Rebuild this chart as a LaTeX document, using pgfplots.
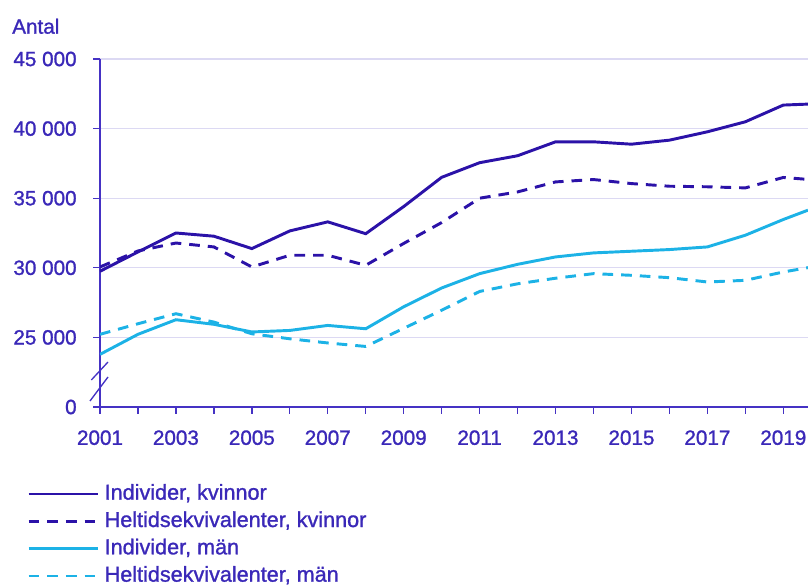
\documentclass[border=0pt]{standalone}
\usepackage{fontspec}
\setmainfont{Liberation Sans}[BoldFont={Liberation Sans}, BoldFeatures={FakeBold=1.2}]
\usepackage{pgfplots}
\usepackage{pgfplotstable}
\pgfplotsset{compat=1.18}

\definecolor{kv}{HTML}{2B12A8}
\definecolor{ma}{HTML}{1CB2E6}
\definecolor{axc}{HTML}{4532C4}
\definecolor{txc}{HTML}{3A28B8}
\definecolor{grc}{HTML}{DCD9F3}

% year, individer kvinnor, heltid kvinnor, individer man, heltid man
\pgfplotstableread{
year    ik     hk     im     hm
2001    29750  30060  23780  25220
2002    31140  31210  25220  25980
2003    32500  31780  26270  26700
2004    32270  31500  25940  26100
2005    31380  30060  25390  25260
2006    32650  30900  25500  24900
2007    33300  30900  25860  24600
2008    32450  30180  25620  24350
2009    34400  31750  27200  25650
2010    36500  33250  28550  26950
2011    37550  35000  29580  28300
2012    38050  35450  30250  28850
2013    39050  36170  30780  29250
2014    39050  36340  31070  29580
2015    38880  36050  31190  29460
2016    39170  35860  31310  29290
2017    39770  35820  31500  28980
2018    40490  35740  32340  29100
2019    41690  36490  33470  29700
2019.65 41760  36350  34140  30010
}\data

\newcommand{\chartfont}{\fontsize{15.5}{18}\selectfont\bfseries}
\newcommand{\legfont}{\fontsize{16.2}{19}\selectfont\bfseries}

\begin{document}
\begin{tikzpicture}
\useasboundingbox (-75pt,-133.5pt) rectangle (531pt,305.25pt);
\begin{axis}[
    at={(0pt,0pt)}, anchor=south west,
    scale only axis,
    width=531pt, height=261pt,
    xmin=2001, xmax=2019.65,
    ymin=0, ymax=25000,
    scaled y ticks=false,
    axis lines=left,
    axis line style={axc, line width=1pt, -},
    tick align=outside,
    major tick length=5pt,
    minor tick length=5pt,
    tick style={axc, line width=1pt},
    xtick={2001,2003,...,2019},
    xticklabels={2001,2003,2005,2007,2009,2011,2013,2015,2017,2019},
    minor xtick={2002,2004,...,2018},
    ytick={0,5000,10000,15000,20000,25000},
    yticklabels={0,25 000,30 000,35 000,40 000,45 000},
    ymajorgrids,
    grid style={grc, line width=0.8pt},
    ticklabel style={font=\chartfont, text=txc},
    yticklabel style={xshift=-9pt},
    xticklabel style={yshift=-9pt},
    clip=true,
    legend style={at={(-0.109,-0.21)}, anchor=north west, draw=none, fill=none,
        font=\legfont, text=txc, row sep=4pt,
        nodes={inner sep=1pt, text height=11.5pt, text depth=3pt}},
    legend cell align=left,
    legend image code/.code={\draw[#1] (0pt,0pt) -- (52pt,0pt);},
    /tikz/every odd column/.append style={column sep=3pt},
]
\addplot[kv, line width=2.2pt] table[x=year, y expr=\thisrow{ik}-20000] {\data};
\addplot[kv, line width=2.2pt, dash pattern=on 8pt off 6pt] table[x=year, y expr=\thisrow{hk}-20000] {\data};
\addplot[ma, line width=2.2pt] table[x=year, y expr=\thisrow{im}-20000] {\data};
\addplot[ma, line width=2.2pt, dash pattern=on 8pt off 6pt] table[x=year, y expr=\thisrow{hm}-20000] {\data};
\legend{{Individer, kvinnor}, {Heltidsekvivalenter, kvinnor}, {Individer, män}, {Heltidsekvivalenter, män}}
\end{axis}
% axis break
\draw[axc, line width=1pt] (-7.5pt,4.5pt) -- (6pt,22.5pt);
\draw[axc, line width=1pt] (-6.5pt,20.25pt) -- (6pt,33.75pt);
\node[anchor=base west, font=\chartfont, text=txc, inner sep=0pt] at (-66pt,280pt) {Antal};
\end{tikzpicture}
\end{document}
